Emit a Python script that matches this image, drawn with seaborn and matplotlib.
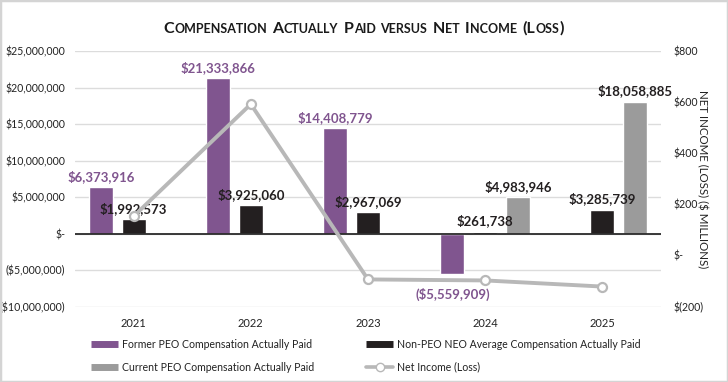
import numpy as np
import pandas as pd
import matplotlib
matplotlib.use("Agg")
import matplotlib.pyplot as plt
import matplotlib.colors as mcolors
import matplotlib.transforms as mtransforms
from matplotlib.lines import Line2D
from matplotlib.patches import Rectangle
import seaborn as sns

# data
years = ["2021", "2022", "2023", "2024", "2025"]
former_peo = [6373916, 21333866, 14408779, -5559909, np.nan]
non_peo_neo = [1992573, 3925060, 2967069, 261738, 3285739]
current_peo = [np.nan, np.nan, np.nan, 4983946, 18058885]
net_income = [153, 592, -94, -98, -122]  # $ millions

series_names = ["Former PEO Compensation Actually Paid",
                "Non-PEO NEO Average Compensation Actually Paid",
                "Current PEO Compensation Actually Paid"]
line_name = "Net Income (Loss)"

purple = "#80558f"
black = "#231f20"
gray = "#9b9b9b"
line_gray = "#b8b8b8"
colors = [purple, black, gray]
label_colors = [purple, black, black]

rows = []
for name, vals in zip(series_names, [former_peo, non_peo_neo, current_peo]):
    for y, v in zip(years, vals):
        if not np.isnan(v):
            rows.append({"year": y, "series": name, "value": v})
df = pd.DataFrame(rows)

sns.set_theme(style="white")
plt.rcParams["font.family"] = ["Lato", "DejaVu Sans"]

W, H = 728, 382
fig = plt.figure(figsize=(W / 100, H / 100), dpi=100)
ax = fig.add_axes([75 / W, 1 - 306.5 / H, (661 - 75) / W, (306.5 - 51) / H])

sns.barplot(data=df, x="year", y="value", hue="series", order=years,
            hue_order=series_names, palette=colors, saturation=1,
            width=0.84, gap=0.27, errorbar=None, legend=False, ax=ax)

ax.set_xlim(-0.5, 4.5)
ax.set_ylim(-10e6, 25e6)
ax.set_yticks(np.arange(-10e6, 25e6 + 1, 5e6))


def left_fmt(v, pos):
    if abs(v) < 1:
        return "$-"
    if v < 0:
        return "(${:,.0f})".format(-v)
    return "${:,.0f}".format(v)


ax.yaxis.set_major_formatter(plt.FuncFormatter(left_fmt))
ax.grid(axis="y", color="#dcdcdc", lw=1)
ax.set_axisbelow(True)
ax.axhline(0, color="#2a2a2a", lw=1.3, zorder=3)
for s in ax.spines.values():
    s.set_visible(False)
ax.tick_params(axis="both", length=0, labelsize=7.6, colors="#222222")
ax.tick_params(axis="y", pad=7)
ax.tick_params(axis="x", pad=8, labelsize=8)
ax.set_xlabel("")
ax.set_ylabel("")

# data labels
for cont in ax.containers:
    fc = cont.patches[0].get_facecolor()
    idx = min(range(3), key=lambda i: np.sum(np.abs(np.array(mcolors.to_rgba(colors[i])) - np.array(fc))))
    col = label_colors[idx]
    ax.bar_label(cont, labels=["${:,.0f}".format(p.get_height()) if p.get_height() >= 0 else ""
                               for p in cont.patches],
                 padding=3, color=col, fontsize=9.5, fontweight="bold")
    for p in cont.patches:
        if p.get_height() < 0:
            ax.annotate("(${:,.0f})".format(-p.get_height()),
                        xy=(p.get_x() + p.get_width() / 2, p.get_height()),
                        xytext=(0, -10), textcoords="offset points",
                        ha="center", va="top", color=col, fontsize=9.5, fontweight="bold")

# net income line on right axis
ax2 = ax.twinx()
sns.lineplot(x=np.arange(len(years)), y=net_income, ax=ax2, color=line_gray, lw=2.8,
             marker="o", markersize=6.5, markerfacecolor="white",
             markeredgecolor=line_gray, markeredgewidth=1.6)
ax2.set_xlim(-0.5, 4.5)
ax2.set_ylim(-200, 800)
ax2.set_yticks(np.arange(-200, 801, 200))


def right_fmt(v, pos):
    if abs(v) < 1e-6:
        return "$-"
    if v < 0:
        return "$({:,.0f})".format(-v)
    return "${:,.0f}".format(v)


ax2.yaxis.set_major_formatter(plt.FuncFormatter(right_fmt))
ax2.grid(False)
for s in ax2.spines.values():
    s.set_visible(False)
ax2.tick_params(axis="y", length=0, labelsize=7.6, colors="#222222", pad=9)
ax2.set_ylabel("NET INCOME (LOSS) ($ MILLIONS)", rotation=270, fontsize=8.3,
               color="#222222", labelpad=3)

# legends
h_left = [Line2D([], [], color=purple, lw=5, solid_capstyle="butt"),
          Line2D([], [], color=gray, lw=5, solid_capstyle="butt")]
h_right = [Line2D([], [], color=black, lw=5, solid_capstyle="butt"),
           Line2D([], [], color=line_gray, lw=2.6, marker="o", markersize=6,
                  markerfacecolor="white", markeredgecolor=line_gray)]
leg_kw = dict(frameon=False, fontsize=7.6, handlelength=2.6, handletextpad=0.3,
              labelspacing=1.1, loc="upper left", borderaxespad=0, borderpad=0,
              labelcolor="#222222")
fig.legend(h_left, [series_names[0], series_names[2]],
           bbox_to_anchor=(91 / W, 1 - 339 / H), **leg_kw)
fig.legend(h_right, [series_names[1], line_name],
           bbox_to_anchor=(366 / W, 1 - 339 / H), **leg_kw)

# small caps title
title = "Compensation Actually Paid versus Net Income (Loss)"
big, small = 11.5, 9
fig.canvas.draw()
renderer = fig.canvas.get_renderer()
ident = mtransforms.IdentityTransform()
space_px = 4.5
pieces = []
for word in title.split(" "):
    runs = []
    for ch in word:
        sz = small if ch.islower() else big
        if runs and runs[-1][1] == sz:
            runs[-1][0] += ch.upper()
        else:
            runs.append([ch.upper(), sz])
    pieces.append(runs)
texts = []
x = 0
for wi, runs in enumerate(pieces):
    if wi > 0:
        x += space_px
    for r, sz in runs:
        t = fig.text(x, H - 33, r, fontsize=sz, fontweight="bold", color="#1a1a1a",
                     va="baseline", ha="left", transform=ident)
        w = t.get_window_extent(renderer).width
        texts.append((t, x))
        x += w + 0.5
offset = (W - x) / 2
for t, x0 in texts:
    t.set_x(x0 + offset)

fig.patches.append(Rectangle((0, 0), 1, 1, transform=fig.transFigure, fill=False,
                             edgecolor="#d4d4d4", lw=2.5))

fig.savefig("out.png", dpi=100)
